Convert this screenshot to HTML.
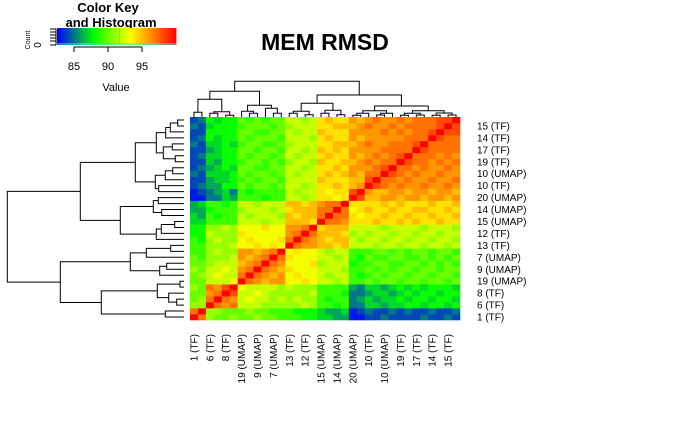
<!DOCTYPE html>
<html><head><meta charset="utf-8"><style>
html,body{margin:0;padding:0;background:#fff;}
svg{display:block;font-family:"Liberation Sans",Arial,sans-serif;}
</style></head><body>
<svg id="chart" width="700" height="432" viewBox="0 0 700 432" xmlns="http://www.w3.org/2000/svg">
<rect width="700" height="432" fill="#fff"/>
<text x="325" y="50" font-size="23" font-weight="bold" text-anchor="middle">MEM RMSD</text>
<g id="key">
<text x="108" y="12" font-size="13" font-weight="bold" text-anchor="middle">Color Key</text>
<text x="111" y="27" font-size="13" font-weight="bold" text-anchor="middle">and Histogram</text>
</g>
<g id="heat"></g>
<g id="coldend"></g>
<g id="rowdend"></g>
<g id="rowlabs"></g>
<g id="collabs"></g>
</svg>
<script>
const labels = ["1 (TF)","6 (TF)","8 (TF)","19 (UMAP)","9 (UMAP)","7 (UMAP)","13 (TF)","12 (TF)","15 (UMAP)","14 (UMAP)","20 (UMAP)","10 (TF)","10 (UMAP)","19 (TF)","17 (TF)","14 (TF)","15 (TF)"];
const keyTicks = [85,90,95];
const values = [
[100,97,91,90,90,91,90,90,91,90,90,89,89,89,88,88,87,87,86,86,83,83,84,84,85,84,84,84,84,85,84,84,85,84],
[97,100,91,91,90,90,90,91,90,90,89,89,89,88,88,88,87,86,86,87,83,84,85,84,84,85,84,85,84,84,85,84,84,85],
[91,91,100,97,96,97,92,92,92,91,91,91,91,91,92,91,89,89,88,89,85,85,87,87,86,87,87,88,88,87,88,88,87,88],
[90,91,97,100,97,96,92,93,92,92,91,92,91,92,91,91,89,88,89,89,85,86,87,86,87,87,88,87,88,88,87,88,88,87],
[90,90,96,97,100,98,92,92,93,92,91,91,91,91,91,92,89,89,89,88,85,85,86,87,87,86,87,88,87,88,88,87,88,88],
[91,90,97,96,98,100,93,92,92,92,92,91,92,91,91,91,89,89,89,89,86,85,87,87,86,87,88,87,88,87,88,88,88,87],
[90,90,92,92,92,93,100,97,96,95,96,96,93,93,94,93,92,92,91,92,89,89,90,89,90,90,89,90,90,89,90,90,89,90],
[90,91,92,93,92,92,97,100,97,96,95,96,93,94,93,93,92,91,92,92,89,88,89,90,89,90,90,89,90,90,89,90,90,89],
[91,90,92,92,93,92,96,97,100,97,96,95,94,93,93,93,92,92,92,91,89,89,90,89,90,89,90,90,89,90,90,89,90,90],
[90,90,91,92,92,92,95,96,97,100,97,96,93,93,93,94,91,92,92,92,88,89,89,90,90,89,89,90,90,89,90,89,90,89],
[90,89,91,91,91,92,96,95,96,97,100,97,94,93,93,93,92,92,91,92,89,88,90,89,89,90,90,89,89,90,89,90,89,90],
[89,89,91,92,91,91,96,96,95,96,97,100,93,94,93,93,92,91,92,92,89,89,89,90,90,89,90,89,90,90,89,90,90,89],
[89,89,91,91,91,92,93,93,94,93,94,93,100,97,96,96,95,95,94,95,92,92,92,91,92,92,91,92,92,91,92,92,91,92],
[89,88,91,92,91,91,93,94,93,93,93,94,97,100,97,96,95,94,95,95,92,91,92,92,91,92,92,91,92,92,91,92,92,91],
[88,88,92,91,91,91,94,93,93,93,93,93,96,97,100,97,95,95,95,94,91,92,91,92,92,91,92,92,91,92,92,91,92,92],
[88,88,91,91,92,91,93,93,93,94,93,93,96,96,97,100,94,95,95,95,92,92,92,92,91,92,92,92,92,91,92,92,92,91],
[87,87,89,89,89,89,92,92,92,91,92,92,95,95,95,94,100,97,97,96,94,94,94,95,94,94,95,94,95,94,94,95,94,94],
[87,86,89,88,89,89,92,91,92,92,92,91,95,94,95,95,97,100,97,97,94,93,94,94,95,94,94,95,94,94,95,94,94,95],
[86,86,88,89,89,89,91,92,92,92,91,92,94,95,95,95,97,97,100,97,93,94,95,94,94,95,94,94,95,95,94,94,95,94],
[86,87,89,89,88,89,92,92,91,92,92,92,95,95,94,95,96,97,97,100,94,94,94,94,95,94,95,94,94,94,95,94,94,95],
[83,83,85,85,87,86,89,89,89,88,89,89,92,92,91,92,94,94,93,94,100,98,95,95,96,96,95,96,96,95,96,96,95,96],
[83,84,85,86,87,85,89,88,89,89,89,89,92,91,92,92,94,93,94,94,98,100,96,95,95,96,96,95,96,96,95,96,96,95],
[84,85,86,86,88,88,90,89,90,90,89,90,92,92,91,92,94,94,95,94,95,96,100,98,97,96,97,96,96,97,96,96,97,96],
[84,84,86,87,87,88,89,90,89,90,90,89,92,92,92,92,95,94,94,94,95,95,98,100,97,97,96,97,96,96,97,96,96,97],
[85,84,87,87,87,88,90,89,90,90,89,90,92,91,92,92,94,95,94,95,96,95,97,97,100,98,97,96,97,96,96,97,96,96],
[84,85,86,87,88,87,90,90,89,89,90,90,92,92,91,92,94,94,95,94,96,96,96,97,98,100,97,97,96,97,96,96,97,96],
[84,84,87,86,88,88,89,90,90,89,90,89,91,92,92,91,95,94,94,95,95,96,97,96,97,97,100,98,97,97,96,97,96,97],
[84,85,87,87,88,88,90,89,90,90,89,90,92,91,92,92,94,95,94,94,96,95,96,97,96,97,98,100,97,97,97,96,97,96],
[84,84,86,87,88,88,90,90,89,90,90,89,92,92,91,92,95,94,95,94,96,96,96,96,97,97,97,97,100,98,97,97,97,97],
[85,84,87,87,88,87,89,90,90,89,89,90,91,92,92,92,94,94,95,95,95,96,97,96,96,97,97,97,98,100,97,97,97,97],
[84,85,88,87,88,88,90,89,90,90,90,89,92,92,92,91,94,95,94,94,96,95,96,96,96,96,96,97,97,97,100,98,97,97],
[84,84,88,88,88,88,90,90,89,89,90,90,92,91,92,92,95,94,94,94,96,96,96,96,97,96,97,96,97,97,98,100,98,98],
[85,84,87,88,88,88,89,90,90,90,89,90,91,92,92,92,94,94,95,95,95,96,97,96,96,97,96,97,97,97,97,98,100,98],
[84,85,88,87,88,88,90,89,90,89,90,90,92,92,91,92,94,95,94,94,96,95,96,97,96,96,97,96,97,97,97,98,98,100]
];
const colTree = [35.7,
 [25.7,[17.7,[4.7,0,1],[5.3,[3.7,2,3],[1.7,4,5]]],[11.7,[5.7,6,[3.7,7,8]],[8.7,9,[3.7,10,11]]]],
 [22,[13.7,[5.7,[3.7,12,13],[2.3,14,15]],[6.7,[3.7,16,17],[2.3,18,19]]],
     [11,[6.3,[3.7,[1.7,20,21],22],[3.7,[2,23,24],25]],[6.3,[3.7,[1.7,26,27],[2,28,29]],[4,[1.7,30,31],[2,32,33]]]]]];
const rowTree = [176.7,
 [103.7,
   [48.7,[27.7,[18.3,[13.7,[6.3,33,32],31],30],[20.7,[11.7,29,28],[8.7,27,26]]],[28.7,[18.7,[11.3,25,24],23],[25.3,22,21]]],
   [63.7,[30.7,[25.7,20,19],[22.3,18,17]],[27.7,[22.7,[9.3,16,15],14],13]]],
 [123.7,
   [53.7,[37.7,[13.3,12,11],10],[24.3,[17.3,9,8],7]],
   [82.7,[26.7,[4,6,5],[15.3,4,[7.3,3,2]]],[18.7,1,0]]]];

const NS="http://www.w3.org/2000/svg";
const N=values.length;
const X0=190, X1=460, Y0=117, Y1=320;
const cw=(X1-X0)/N, rh=(Y1-Y0)/N;
const vmin=82.5, vmax=100;
const xCol=i=>X0+(i+0.5)*cw;
const yRow=i=>Y0+(N-1-i+0.5)*rh;
const stops=[[82.5,[0,0,255]],[87.8,[0,255,0]],[93.2,[255,255,0]],[100,[255,0,0]]];
function color(v){
  v=Math.max(vmin,Math.min(vmax,v));
  for(let k=0;k<stops.length-1;k++){
    const [a,ca]=stops[k],[b,cb]=stops[k+1];
    if(v<=b){const t=(v-a)/(b-a);return `rgb(${ca.map((c,j)=>Math.round(c+(cb[j]-c)*t)).join(',')})`;}
  }
  return 'rgb(255,0,0)';
}
function mk(tag,attrs,parent){const e=document.createElementNS(NS,tag);for(const k in attrs)e.setAttribute(k,attrs[k]);parent.appendChild(e);return e;}

const heat=document.getElementById('heat');
for(let r=0;r<N;r++)for(let c=0;c<N;c++){
  const e=mk('rect',{x:(X0+c*cw).toFixed(2),y:(Y0+(N-1-r)*rh).toFixed(2),width:(cw+0.3).toFixed(2),height:(rh+0.3).toFixed(2),fill:color(values[r][c])},heat);
  
  
}

function drawTree(tree,g,posOf,isCol){
  function rec(n){
    if(typeof n==='number') return {p:posOf(n),h:0};
    const a=rec(n[1]), b=rec(n[2]), h=n[0];
    let d;
    if(isCol){const y=117-h;d=`M${a.p},${117-a.h}V${y}H${b.p}V${117-b.h}`;}
    else {const x=184-h;d=`M${184-a.h},${a.p}H${x}V${b.p}H${184-b.h}`;}
    const e=mk('path',{d:d,fill:'none',stroke:'#000','stroke-width':1},g);
    
    
    return {p:(a.p+b.p)/2,h:h};
  }
  rec(tree);
}
drawTree(colTree,document.getElementById('coldend'),xCol,true);
drawTree(rowTree,document.getElementById('rowdend'),yRow,false);

const rl=document.getElementById('rowlabs'), cl=document.getElementById('collabs');
labels.forEach((t,k)=>{
  const i=2*k;
  const a=mk('text',{x:477,y:(yRow(i)+3.5).toFixed(1),'font-size':10},rl);
  a.textContent=t;
  
  
  const x=xCol(i)+3.5;
  const b=mk('text',{x:x.toFixed(1),y:334,'font-size':10,'text-anchor':'end',transform:`rotate(-90 ${x.toFixed(1)} 334)`},cl);
  b.textContent=t;
  
  
});

const key=document.getElementById('key');
const KX0=57, KX1=176, KY0=28, KY1=45;
const kx=v=>KX0+(v-vmin)/(vmax-vmin)*(KX1-KX0);
for(let s=0;s<120;s++){
  const v=vmin+(vmax-vmin)*s/120;
  const e=mk('rect',{x:kx(v).toFixed(2),y:KY0,width:((KX1-KX0)/120+0.4).toFixed(2),height:KY1-KY0,fill:color(v)},key);
  
  
}
const hl=mk('path',{d:`M${KX0},${KY1-1}H${KX1}M${kx(91.7)},${KY0}V${KY1}`,stroke:'#00ffff','stroke-width':1,fill:'none'},key);


const ka=mk('path',{d:`M${kx(keyTicks[0])},${KY1+2}H${kx(keyTicks[keyTicks.length-1])}`+keyTicks.map(v=>`M${kx(v)},${KY1+2}v5`).join(''),stroke:'#000',fill:'none'},key);


keyTicks.forEach(v=>{
  const t=mk('text',{x:kx(v),y:70,'font-size':11,'text-anchor':'middle'},key);
  t.textContent=v;
  
  
});
const yl=mk('path',{d:'M50,29H56M50,32H56M50,35H56M50,38H56M50,41H56M50,45H56M56,29V45',stroke:'#000',fill:'none'},key);


const vt=mk('text',{x:116,y:91,'font-size':11,'text-anchor':'middle'},key);
vt.textContent='Value';


const ct=mk('text',{x:30,y:40,'font-size':7,'text-anchor':'middle',transform:'rotate(-90 30 40)'},key);
ct.textContent='Count';


const zt=mk('text',{x:41,y:45,'font-size':10,'text-anchor':'middle',transform:'rotate(-90 41 45)'},key);
zt.textContent='0';


</script>
</body></html>
